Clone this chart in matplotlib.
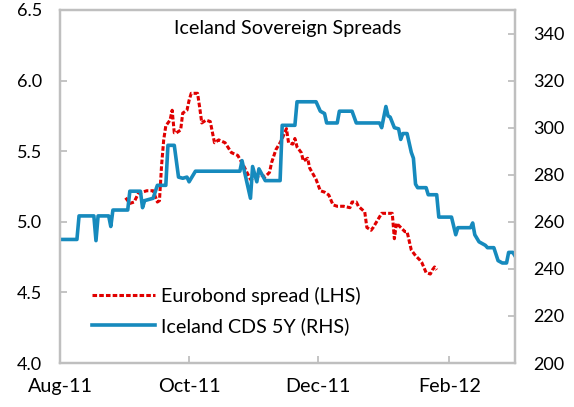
import matplotlib
matplotlib.use("Agg")
import matplotlib.pyplot as plt
import matplotlib.dates as mdates
import numpy as np
import pandas as pd

plt.rcParams['font.family'] = ['Lato', 'DejaVu Sans']

start_date = "2011-08-01"

# Iceland CDS 5Y (RHS): days since start_date, values
cds_days = [0, 8, 9, 16, 17, 18, 23, 24, 25, 32, 33, 38, 39, 40, 44, 46, 50, 51, 54, 56,
            58, 60, 61, 64, 85, 86, 90, 91, 93, 94, 97, 104, 105, 111, 112, 121, 123, 125,
            126, 131, 132, 138, 140, 151, 152, 154, 155, 156, 158, 160, 161, 162, 164, 166,
            167, 168, 169, 173, 174, 178, 179, 185, 187, 188, 194, 195, 196, 198, 201, 202,
            205, 207, 209, 211, 212, 214, 215]
cds_vals = [252.5, 252.5, 262.5, 262.5, 252, 262.5, 262.5, 258, 265, 265, 273, 273, 266, 269,
            270, 275.5, 275.5, 292.5, 292.5, 279, 278.5, 279, 277, 281.5, 281.5, 286, 270,
            283.5, 277, 282.5, 277.5, 277.5, 301, 301, 311, 311, 307, 306, 302, 302, 307, 307,
            302, 302, 300, 309, 305, 304.5, 300, 299.5, 295, 297.5, 297.5, 289.5, 287, 276,
            274.5, 274.5, 271.5, 271.5, 262, 262, 254.5, 257.5, 257.5, 259.5, 254.5, 251.5,
            250, 249, 249, 243.5, 242.5, 242.5, 247, 247, 245.5]

# Eurobond spread (LHS): days since start_date, values
euro_days = [31, 33, 35, 37, 39, 41, 44, 46, 47, 48, 49, 50, 52, 53, 54, 55, 57, 58, 60, 61,
             62, 65, 66, 67, 69, 71, 73, 75, 78, 81, 84, 87, 90, 93, 95, 97, 99, 100, 102,
             104, 105, 107, 108, 110, 111, 112, 114, 115, 117, 118, 121, 123, 125, 127, 129,
             131, 134, 137, 138, 140, 141, 144, 145, 147, 148, 150, 152, 154, 157, 158, 159,
             161, 163, 164, 166, 168, 170, 171, 173, 175, 176, 177, 178]
euro_vals = [5.17, 5.13, 5.14, 5.20, 5.21, 5.22, 5.22, 5.14, 5.15, 5.40, 5.58, 5.68, 5.72,
             5.79, 5.63, 5.63, 5.65, 5.77, 5.79, 5.86, 5.91, 5.91, 5.81, 5.70, 5.72, 5.71,
             5.56, 5.58, 5.56, 5.49, 5.47, 5.39, 5.30, 5.32, 5.33, 5.32, 5.35, 5.42, 5.51,
             5.56, 5.59, 5.66, 5.56, 5.55, 5.59, 5.53, 5.49, 5.43, 5.45, 5.38, 5.30, 5.22,
             5.21, 5.19, 5.12, 5.11, 5.11, 5.10, 5.14, 5.14, 5.11, 5.07, 4.96, 4.94, 4.96,
             5.01, 5.06, 5.06, 5.06, 4.88, 4.99, 4.96, 4.93, 4.93, 4.80, 4.76, 4.73, 4.71,
             4.64, 4.63, 4.66, 4.68, 4.66]

x_ticks = ["2011-08-01", "2011-10-01", "2011-12-01", "2012-02-01"]
x_labels = ["Aug-11", "Oct-11", "Dec-11", "Feb-12"]
lhs_ticks = [4.0, 4.5, 5.0, 5.5, 6.0, 6.5]
rhs_ticks = [200, 220, 240, 260, 280, 300, 320, 340]

title = "Iceland Sovereign Spreads"
euro_label = "Eurobond spread (LHS)"
cds_label = "Iceland CDS 5Y (RHS)"

base = pd.Timestamp(start_date)
cds_dates = base + pd.to_timedelta(cds_days, unit="D")
euro_dates = base + pd.to_timedelta(euro_days, unit="D")

RED = "#E00000"
BLUE = "#168ABD"
GRID = "#BFBFBF"
FS = 13
FS_TXT = 14.2

fig = plt.figure(figsize=(5.74, 4.07), dpi=100)
ax = fig.add_axes([60/574, 1 - 363/407, (515-60)/574, (363-10)/407])
ax2 = ax.twinx()

l1, = ax.plot(euro_dates, euro_vals, color=RED, lw=2.2, linestyle=(0, (1.5, 0.7)),
              solid_capstyle="butt", label=euro_label)
l2, = ax2.plot(cds_dates, cds_vals, color=BLUE, lw=2.6, solid_joinstyle="round",
               label=cds_label)

ax.set_xlim(pd.Timestamp("2011-08-01"), pd.Timestamp("2012-03-03"))
ax.set_ylim(4.0, 6.5)
ax2.set_ylim(200, 350)

ax.set_xticks(pd.to_datetime(x_ticks))
ax.set_xticklabels(x_labels)
ax.set_yticks(lhs_ticks)
ax.set_yticklabels([f"{v:.1f}" for v in lhs_ticks])
ax2.set_yticks(rhs_ticks)
ax2.set_yticklabels([str(v) for v in rhs_ticks])

for a in (ax, ax2):
    for s in a.spines.values():
        s.set_color(GRID)
        s.set_linewidth(1.6)
ax.tick_params(axis="x", direction="in", length=5, width=1.3, color=GRID,
               labelsize=FS_TXT, pad=11)
ax.tick_params(axis="y", direction="in", length=5, width=1.3, color=GRID,
               labelsize=FS, pad=13)
ax2.tick_params(axis="y", direction="in", length=5, width=1.3, color=GRID,
                labelsize=FS, pad=13)

ax.text(0.5, 0.949, title, transform=ax.transAxes, ha="center", va="center", fontsize=FS_TXT)

fig.legend([l1, l2], [euro_label, cds_label], loc="upper left",
           bbox_to_anchor=(92/574, 1 - 287/407), bbox_transform=fig.transFigure,
           frameon=False, fontsize=FS_TXT, handlelength=3.2, handletextpad=0.3,
           labelspacing=0.6, borderpad=0, borderaxespad=0)

fig.savefig("out.png", dpi=100)
